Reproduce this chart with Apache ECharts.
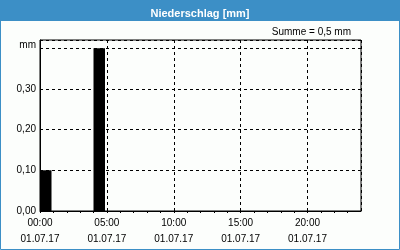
<!DOCTYPE html>
<html><head><meta charset="utf-8">
<script src="https://cdn.jsdelivr.net/npm/echarts@6/dist/echarts.min.js"></script>
<style>html,body{margin:0;padding:0;background:#fcfefc}#c{width:400px;height:250px}</style>
</head><body><div id="c"></div>
<script>
// Data (hourly precipitation, mm) for 01.07.17
const hours = [0,1,2,3,4,5,6,7,8,9,10,11,12,13,14,15,16,17,18,19,20,21,22,23];
const precip = [0.10,0,0,0,0.40,0,0,0,0,0,0,0,0,0,0,0,0,0,0,0,0,0,0,0];
const xTickLabels = ['00:00','05:00','10:00','15:00','20:00'];
const dateLabel = '01.07.17';
const yTickLabels = ['0,00','0,10','0,20','0,30','mm'];
const titleText = 'Niederschlag [mm]';
const sumText = 'Summe = 0,5 mm';

const font = 'Liberation Sans, Arial, sans-serif';
const chart = echarts.init(document.getElementById('c'), null, {renderer:'canvas'});
const barFrac = 0.86;
chart.setOption({
  animation:false,
  backgroundColor:'#fcfefc',
  graphic:[
    {type:'rect', shape:{x:0.5,y:0.5,width:399,height:249}, style:{fill:'none',stroke:'#3c8fc6',lineWidth:1}, z:0},
    {type:'rect', shape:{x:0,y:0,width:400,height:21}, style:{fill:'#3c8fc6'}, z:1}
  ],
  title:[
    {text:titleText, left:'center', top:3, textStyle:{color:'#fff',fontSize:11,fontWeight:'bold',fontFamily:font}},
    {text:sumText, right:44, top:22, textStyle:{color:'#000',fontSize:10,fontWeight:'normal',fontFamily:font}}
  ],
  grid:{left:40,top:40,right:39,bottom:39,show:true,borderColor:'#000',borderWidth:1,backgroundColor:'#fcfefc'},
  xAxis:[
    {type:'value', min:0, max:24, interval:1,
     axisLine:{show:true,lineStyle:{color:'#000',width:1}},
     axisTick:{show:true,length:2,lineStyle:{color:'#000'}},
     splitLine:{show:false},
     axisLabel:{margin:4, color:'#000', fontSize:10, fontFamily:font, lineHeight:16,
       showMaxLabel:false,
       formatter:function(v){ if(v%5!==0||v>=24) return ''; return xTickLabels[v/5]+'\n'+dateLabel; }}},
    {type:'value', min:0, max:24, interval:5, position:'top',
     axisLine:{show:false}, axisTick:{show:false}, axisLabel:{show:false},
     splitLine:{show:true,lineStyle:{color:'#000',type:[3,3],width:1}}}
  ],
  yAxis:{type:'value', min:0, max:0.42, interval:0.1,
    axisLine:{show:true,lineStyle:{color:'#000'}},
    axisTick:{show:false},
    splitLine:{show:true,lineStyle:{color:'#000',type:[3,3],width:1}},
    axisLabel:{margin:4,color:'#000',fontSize:10,fontFamily:font,showMaxLabel:false,
      rich:{m:{fontSize:10,fontFamily:font,color:'#000',padding:[0,0,6,0]}},
      formatter:function(v){ const i=Math.round(v*10); if(Math.abs(v-i/10)>1e-6||i>4) return ''; return i===4?'{m|'+yTickLabels[i]+'}':yTickLabels[i]; }}},
  series:[{
    type:'custom', xAxisIndex:0, yAxisIndex:0, clip:true,
    data: hours.map((h,i)=>[h, precip[i]]),
    renderItem:function(params, api){
      const h=api.value(0), v=api.value(1);
      if(!v) return null;
      const p0=api.coord([h,0]), p1=api.coord([h+barFrac,v]);
      return {type:'rect', shape:{x:p0[0],y:p1[1],width:p1[0]-p0[0],height:p0[1]-p1[1]}, style:{fill:'#000'}};
    }
  }]
});
</script></body></html>
